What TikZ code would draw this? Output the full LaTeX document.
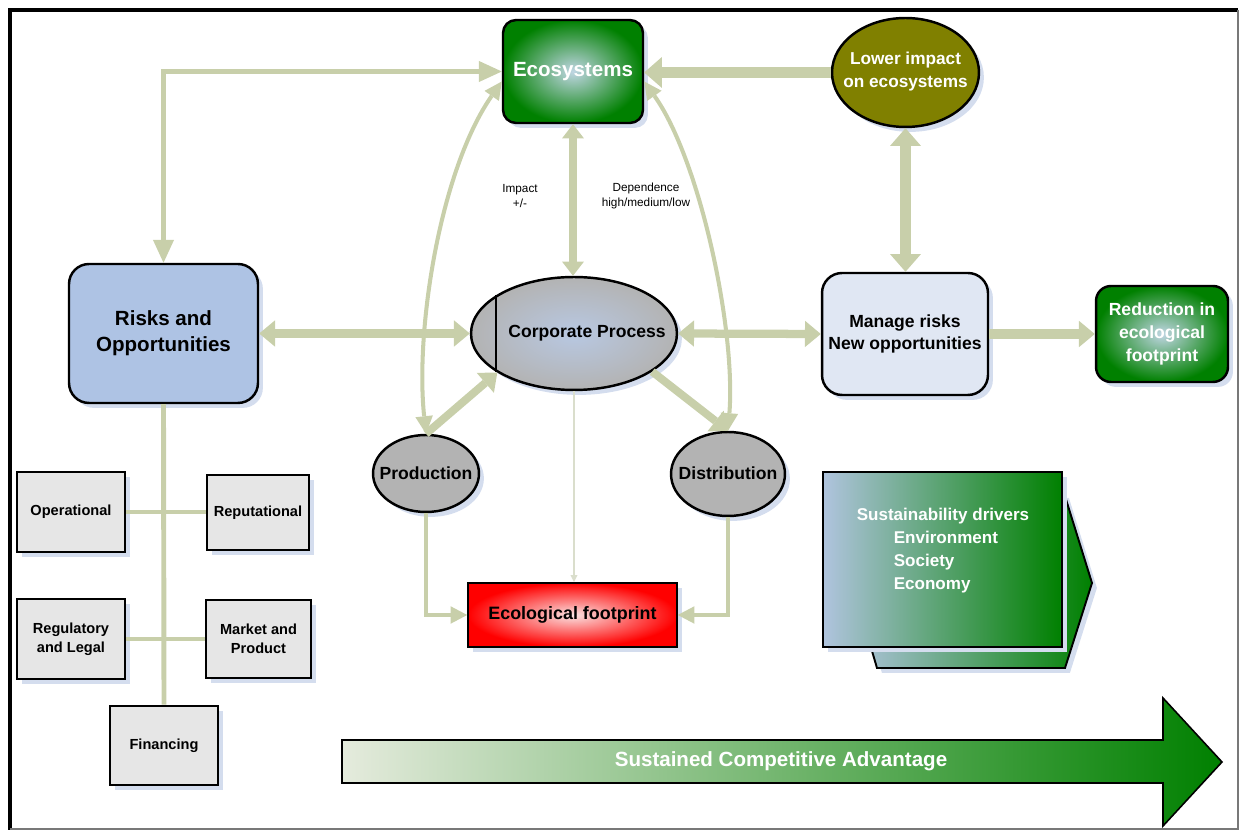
\documentclass[tikz,border=0pt]{standalone}
\usepackage{fontspec}
\setmainfont{Liberation Sans}
\usetikzlibrary{arrows.meta,shapes.geometric,shadows}

\definecolor{linkc}{RGB}{200,207,170}
\definecolor{thinc}{RGB}{218,222,204}
\definecolor{shadowc}{RGB}{212,221,238}
\definecolor{ecogreen}{RGB}{0,128,0}
\definecolor{glow}{RGB}{192,214,228}
\definecolor{olivec}{RGB}{128,128,0}
\definecolor{riskc}{RGB}{174,195,228}
\definecolor{managec}{RGB}{224,231,243}
\definecolor{grayc}{RGB}{179,179,179}
\definecolor{corpglow}{RGB}{184,200,226}
\definecolor{redglow}{RGB}{250,226,226}
\definecolor{boxc}{RGB}{230,230,230}
\definecolor{steelc}{RGB}{176,196,222}
\definecolor{advc}{RGB}{229,235,221}
\definecolor{framec}{RGB}{120,120,120}

\newcommand\fsz[2]{\fontsize{#1}{#2}\selectfont}

\tikzset{
  hLoop/.tip={Triangle[width=12pt,length=13pt,line width=0pt]},
  hWide/.tip={Triangle[width=17.5pt,length=10pt,line width=0pt]},
  hMid/.tip={Triangle[width=15pt,length=9pt,line width=0pt]},
  hEco/.tip={Triangle[width=12.4pt,length=8pt,line width=0pt]},
  hCurve/.tip={Triangle[width=10pt,length=10pt,line width=0pt]},
  hFoot/.tip={Triangle[width=10pt,length=9.5pt,line width=0pt]},
  hThin/.tip={Triangle[width=4pt,length=4pt,line width=0pt]},
  shadowed/.style={drop shadow={shadow xshift=2.8pt, shadow yshift=-2.8pt, fill=shadowc, opacity=1}},
  mainbox/.style={draw=black, line width=1.4pt, inner sep=0pt, align=center, shadowed},
  smallbox/.style={draw=black, line width=1.6pt, inner sep=0pt, align=center, fill=boxc, shadowed,
    font=\bfseries\fsz{8.3}{10.8}},
  lbl/.style={inner sep=0pt, align=center},
  link/.style={draw=linkc, line width=#1},
}

\begin{document}
\begin{tikzpicture}[x=0.02cm, y=-0.02cm, font=\bfseries]
\useasboundingbox (0,0) rectangle (1242,830);

% outer frame
\draw[line width=2.8pt] (10,830) -- (10,10) -- (1238,10);
\draw[framec, line width=1.1pt] (1238,10) -- (1238,829) -- (10,829);

% ---------- nodes ----------
\node[mainbox, rounded corners=0.26cm, minimum width=2.8cm, minimum height=2.06cm,
      shading=radial, inner color=glow, outer color=ecogreen, text=white,
      font=\bfseries\fsz{11.7}{14}] (eco) at (573,71.5) {Ecosystems};

\node[mainbox, ellipse, minimum width=2.94cm, minimum height=2.18cm, fill=olivec] (lower) at (905.5,72.5) {};
\node[lbl, text=white, font=\bfseries\fsz{9.8}{13}] (lowertxt) at (905.5,71.5) {Lower impact\\on ecosystems};

\node[mainbox, rounded corners=0.4cm, minimum width=3.78cm, minimum height=2.78cm, fill=riskc,
      font=\bfseries\fsz{11.7}{14.7}] (risk) at (163.5,333.5) {Risks and\\Opportunities};

\node[mainbox, ellipse, minimum width=4.12cm, minimum height=2.26cm,
      shading=radial, inner color=corpglow, outer color=grayc] (corp) at (574,333.5) {};
\draw[line width=1.4pt] (corp.154) -- (corp.206);
\node[lbl, font=\bfseries\fsz{10}{12}] (corptxt) at (587,333) {Corporate Process};

\node[mainbox, rounded corners=0.4cm, minimum width=3.32cm, minimum height=2.44cm, fill=managec,
      font=\bfseries\fsz{10}{13}] (manage) at (905,334) {Manage risks\\New opportunities};

\node[mainbox, rounded corners=0.3cm, minimum width=2.64cm, minimum height=1.92cm,
      shading=radial, inner color=glow, outer color=ecogreen, text=white,
      font=\bfseries\fsz{10}{13}] (reduce) at (1162,334) {Reduction in\\ecological\\footprint};

\node[mainbox, ellipse, minimum width=2.12cm, minimum height=1.54cm, fill=grayc] (prod) at (426,473.5) {};
\node[lbl, font=\bfseries\fsz{10}{12}] (prodtxt) at (426,473) {Production};

\node[mainbox, ellipse, minimum width=2.28cm, minimum height=1.68cm, fill=grayc] (dist) at (728,474) {};
\node[lbl, font=\bfseries\fsz{10}{12}] (disttxt) at (728,473) {Distribution};

\node[mainbox, line width=0.9pt, minimum width=4.18cm, minimum height=1.28cm,
      shading=radial, inner color=redglow, outer color=red,
      font=\bfseries\fsz{10.2}{12}] (foot) at (572.5,615) {Ecological footprint};

% risk categories
\node[smallbox, minimum width=2.16cm, minimum height=1.6cm] (oper) at (71,512) {Operational};
\node[smallbox, minimum width=2.04cm, minimum height=1.5cm] (repu) at (258,512.5) {Reputational};
\node[smallbox, minimum width=2.16cm, minimum height=1.6cm] (regu) at (71,639) {Regulatory\\and Legal};
\node[smallbox, minimum width=2.1cm, minimum height=1.56cm] (mark) at (258.5,639) {Market and\\Product};
\node[smallbox, minimum width=2.16cm, minimum height=1.58cm] (fina) at (164,745.5) {Financing};

% sustainability drivers (stacked shapes)
\path[draw=black, line width=1.1pt, left color=steelc, right color=ecogreen, shadowed]
  (877,493) -- (1064,493) -- (1092,583) -- (1065,668) -- (877,668) -- (852,583) -- cycle;
\node[draw=black, line width=1.2pt, inner sep=0pt, minimum width=4.78cm, minimum height=3.5cm,
      left color=steelc, right color=ecogreen, shadowed] (drivers) at (942.5,559.5) {};
\node[lbl, align=left, text=white, font=\bfseries\fsz{9.7}{13}] (driverstxt) at (943,550.5)
  {Sustainability drivers\\\hspace*{0.74cm}Environment\\\hspace*{0.74cm}Society\\\hspace*{0.74cm}Economy};

% long arrow along the bottom
\path[draw=black, line width=0.9pt, left color=advc, right color=ecogreen]
  (342,740) -- (1163,740) -- (1163,698) -- (1222,762) -- (1163,826) -- (1163,783) -- (342,783) -- cycle;
\node[lbl, text=white, font=\bfseries\fsz{11.7}{14}] (adv) at (781,761) {Sustained Competitive Advantage};

% small labels
\node[lbl, font=\mdseries\fsz{6.7}{9}] (impact) at (520,196) {Impact\\+/-};
\node[lbl, font=\mdseries\fsz{6.7}{9}] (depend) at (646,196) {Dependence\\high/medium/low};

% ---------- connectors ----------
\draw[link=2.8pt, hLoop-hLoop] (risk.north) |- (eco.west);
\draw[link=6.2pt, -hWide] (lower.west) -- (lower.west -| eco.east);
\draw[link=4pt, hEco-hEco] (eco.south) -- (eco.south |- corp.north);
\draw[link=5.7pt, hWide-hWide] (lower.south) -- (lower.south |- manage.north);
\draw[link=4.7pt, hMid-hMid] (risk.east) -- (corp.west);
\draw[link=4.7pt, hMid-hMid] (corp.east) -- (manage.west);
\draw[link=6pt, -hMid] (manage.east) -- (reduce.west);

\draw[link=2.3pt, hCurve-hCurve] (eco.188) .. controls (440,170) and (415,330) .. (prod.north);
\draw[link=2.3pt, hCurve-hCurve] (eco.352) .. controls (700,160) and (736,330) .. (dist.north);

\draw[link=4.5pt, -hMid] (prod.north) -- (corp.207);
\draw[link=4.5pt, -hMid] (corp.334) -- (dist.north);

\draw[draw=thinc, line width=1.1pt, -hThin] (corp.south) -- (corp.south |- foot.north);
\draw[link=2.8pt, -hFoot] (prod.south) |- (foot.west);
\draw[link=2.8pt, -hFoot] (dist.south) |- (foot.east);

\draw[link=2.8pt] (risk.south) -- (fina.north);
\draw[link=2.8pt] (oper.east) -- (oper.east -| repu.west);
\draw[link=2.8pt] (regu.east) -- (regu.east -| mark.west);
\end{tikzpicture}
\end{document}
